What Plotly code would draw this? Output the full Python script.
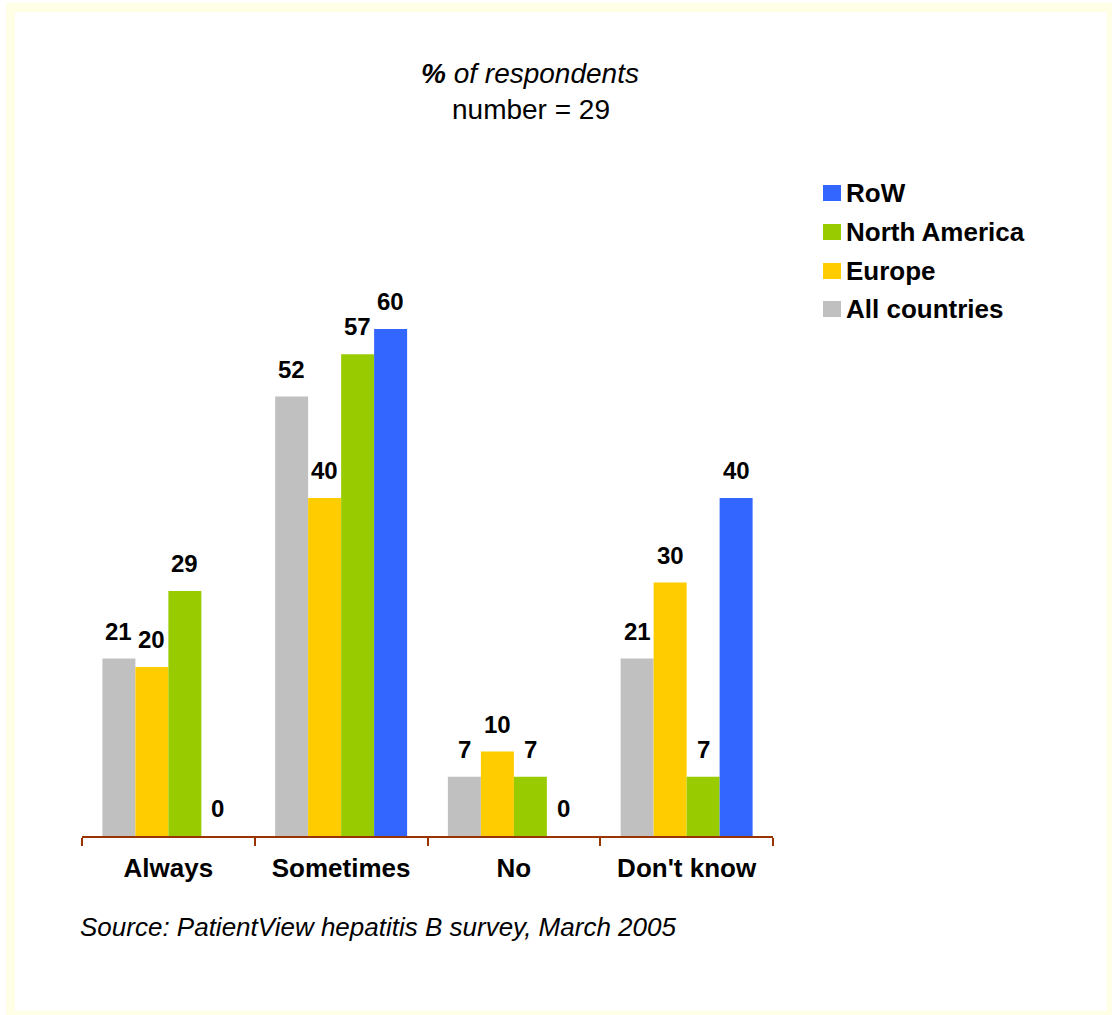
import plotly.graph_objects as go

# Survey answers and share of respondents (%) per region
categories = ["Always", "Sometimes", "No", "Don't know"]
all_countries = [21, 52, 7, 21]
europe = [20, 40, 10, 30]
north_america = [29, 57, 7, 7]
row = [0, 60, 0, 40]

series_names = ["All countries", "Europe", "North America", "RoW"]
series_values = [all_countries, europe, north_america, row]
series_colors = ["#C0C0C0", "#FFCC00", "#99CC00", "#3366FF"]

W, H = 1112, 1015
FONT = "Arial, Liberation Sans, sans-serif"


def px_x(x):
    return x / W


def px_y(y):
    return 1 - y / H


BARGAP = 0.236
n_series = len(series_names)
bar_w = (1 - BARGAP) / n_series

fig = go.Figure()
for name, vals, col in zip(series_names, series_values, series_colors):
    fig.add_trace(go.Bar(
        name=name, x=categories, y=vals,
        marker=dict(color=col, line=dict(width=0)),
        showlegend=False,
    ))

annotations = []
# value labels above each bar
for k, (vals, col) in enumerate(zip(series_values, series_colors)):
    off = (k - (n_series - 1) / 2) * bar_w
    for i, v in enumerate(vals):
        annotations.append(dict(
            x=i + off, y=v, xref="x", yref="y",
            text=f"<b>{v}</b>", showarrow=False,
            xanchor="center", yanchor="bottom", yshift=12,
            font=dict(family=FONT, size=24, color="#000000"),
        ))

# heading
annotations.append(dict(
    x=px_x(530), y=px_y(73), xref="paper", yref="paper",
    text="<b><i>%</i></b><i> of respondents</i>", showarrow=False,
    xanchor="center", yanchor="middle",
    font=dict(family=FONT, size=28, color="#000000"),
))
annotations.append(dict(
    x=px_x(531), y=px_y(110), xref="paper", yref="paper",
    text="number = 29", showarrow=False,
    xanchor="center", yanchor="middle",
    font=dict(family=FONT, size=28, color="#000000"),
))

# source note
annotations.append(dict(
    x=px_x(78), y=px_y(927), xref="paper", yref="paper",
    text="<i>Source: PatientView hepatitis B survey, March 2005</i>",
    showarrow=False, xanchor="left", yanchor="middle",
    font=dict(family=FONT, size=26, color="#000000"),
))

shapes = [
    # pale frame around the slide
    dict(type="rect", xref="paper", yref="paper", layer="below",
         x0=px_x(6), x1=px_x(1112), y0=px_y(1015), y1=px_y(3),
         fillcolor="#FFFFE6", line=dict(width=0)),
    dict(type="rect", xref="paper", yref="paper", layer="below",
         x0=px_x(15), x1=px_x(1107), y0=px_y(1011), y1=px_y(12),
         fillcolor="#FFFFFF", line=dict(width=0)),
]

# legend, listed top-down in reverse series order
legend_y = [193, 232, 271, 309]
for row_y, (name, col) in zip(legend_y, list(zip(series_names, series_colors))[::-1]):
    shapes.append(dict(
        type="rect", xref="paper", yref="paper",
        x0=px_x(823), x1=px_x(841), y0=px_y(row_y + 8), y1=px_y(row_y - 8),
        fillcolor=col, line=dict(width=0),
    ))
    annotations.append(dict(
        x=px_x(844), y=px_y(row_y), xref="paper", yref="paper",
        text=f"<b>{name}</b>", showarrow=False,
        xanchor="left", yanchor="middle",
        font=dict(family=FONT, size=26, color="#000000"),
    ))

AXIS_COL = "#993300"
Y_MAX = 65
fig.update_layout(
    width=W, height=H,
    margin=dict(l=0, r=0, t=0, b=0),
    paper_bgcolor="#FFFFFF", plot_bgcolor="rgba(0,0,0,0)",
    barmode="group", bargap=BARGAP, bargroupgap=0,
    showlegend=False,
    xaxis=dict(
        domain=[px_x(82), px_x(773)],
        range=[-0.5, 3.5],
        showline=True, linecolor=AXIS_COL, linewidth=2,
        ticks="outside", tickson="boundaries", ticklen=8,
        tickcolor=AXIS_COL, tickwidth=2,
        showgrid=False, zeroline=False,
        tickfont=dict(family=FONT, size=26, color="#000000", weight="bold"),
        ticklabelstandoff=8,
    ),
    yaxis=dict(
        domain=[px_y(836), px_y(836 - Y_MAX * 8.45)],
        range=[0, Y_MAX],
        visible=False,
    ),
    annotations=annotations,
    shapes=shapes,
)

fig.write_html("out.html")
